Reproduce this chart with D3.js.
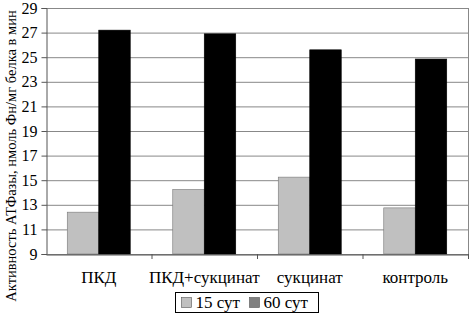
<!DOCTYPE html>
<html><head><meta charset="utf-8">
<script src="https://cdn.jsdelivr.net/npm/d3@7"></script>
<style>body{margin:0;background:#fff}svg{display:block}svg text{font-family:"Liberation Serif","DejaVu Serif","Times New Roman",serif}</style>
</head><body>
<svg id="c" width="470" height="313"></svg>
<script>
const categories = ["ПКД", "ПКД+сукцинат", "сукцинат", "контроль"];
const seriesNames = ["15 сут", "60 сут"];
const values15 = [12.4, 14.25, 15.25, 12.75];
const values60 = [27.2, 26.9, 25.6, 24.85];
const yTicks = [9, 11, 13, 15, 17, 19, 21, 23, 25, 27, 29];
const yTitle = "Активность АТФазы, нмоль Фн/мг белка в мин";

const svg = d3.select("#c");
const L = 46, R = 468, T = 8, B = 254;

const x = d3.scaleBand().domain(categories).range([L, R]).paddingInner(0).paddingOuter(0);
const y = d3.scaleLinear().domain([9, 29]).range([B, T]);
const inner = d3.scaleBand().domain(seriesNames).range([0, x.bandwidth()]).paddingInner(0).paddingOuter(0.675);

svg.append("g").selectAll("line").data(yTicks).join("line")
  .attr("x1", L).attr("x2", R).attr("y1", d => y(d) + 0.5).attr("y2", d => y(d) + 0.5)
  .attr("stroke", "#888").attr("stroke-width", 1);
svg.append("line").attr("x1", R + 0.5).attr("x2", R + 0.5).attr("y1", T).attr("y2", B)
  .attr("stroke", "#888");

const data = categories.map((c, i) => ({c, vals: [values15[i], values60[i]]}));
const colors = ["#c0c0c0", "#000000"];
const g = svg.append("g").selectAll("g").data(data).join("g")
  .attr("transform", d => `translate(${x(d.c)},0)`);
g.selectAll("rect").data(d => d.vals.map((v, j) => ({v, s: seriesNames[j], j}))).join("rect")
  .attr("x", d => inner(d.s)).attr("width", inner.bandwidth())
  .attr("y", d => y(d.v)).attr("height", d => y(9) - y(d.v))
  .attr("fill", d => colors[d.j])
  .attr("stroke", d => d.j === 0 ? "#777" : "#000").attr("stroke-width", 0.6);

const yAxis = d3.axisLeft(y).tickValues(yTicks).tickSize(5).tickPadding(4).tickFormat(d3.format("d"));
const ya = svg.append("g").attr("transform", `translate(${L + 0.5},0)`).call(yAxis);
ya.select(".domain").attr("stroke", "#555");
ya.selectAll(".tick line").attr("stroke", "#555");
ya.selectAll("text").attr("font-size", 16).attr("fill", "#000");

const xAxis = d3.axisBottom(x).tickSize(0).tickPadding(16);
const xa = svg.append("g").attr("transform", `translate(0,${B + 0.5})`).call(xAxis);
xa.select(".domain").attr("stroke", "#555");
xa.selectAll("text").attr("font-size", 17).attr("fill", "#000");
svg.append("g").selectAll("line").data(categories.slice(1).concat(["_end"])).join("line")
  .attr("x1", d => d === "_end" ? R + 0.5 : x(d) + 0.5)
  .attr("x2", d => d === "_end" ? R + 0.5 : x(d) + 0.5)
  .attr("y1", B).attr("y2", B + 5).attr("stroke", "#555");

svg.append("text").attr("transform", `translate(13,156) rotate(-90)`)
  .attr("text-anchor", "middle").attr("dominant-baseline", "middle")
  .attr("font-size", 14.5).text(yTitle);

const lg = svg.append("g").attr("transform", "translate(175.5,292.5)");
lg.append("rect").attr("width", 143).attr("height", 20).attr("fill", "#fff").attr("stroke", "#000");
const legColors = ["#c0c0c0", "#808080"];
const legX = [6, 74];
seriesNames.forEach((s, i) => {
  lg.append("rect").attr("x", legX[i]).attr("y", 5).attr("width", 10).attr("height", 10)
    .attr("fill", legColors[i]).attr("stroke", "#555").attr("stroke-width", 0.6);
  lg.append("text").attr("x", legX[i] + 14).attr("y", 15.5)
    .attr("font-size", 17).text(s);
});
</script>
</body></html>
